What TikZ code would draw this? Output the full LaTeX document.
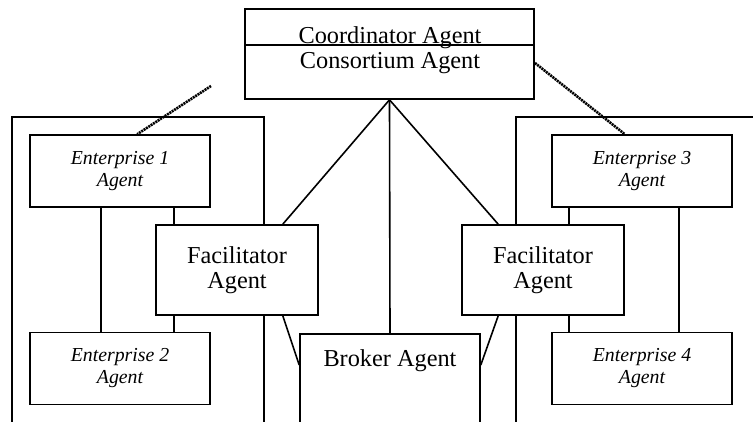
\documentclass[tikz,border=0pt]{standalone}
\usepackage{fontspec}
\setmainfont{Liberation Serif}
\usetikzlibrary{calc}
\begin{document}
\begin{tikzpicture}[x=1pt,y=-1pt,line width=1.6pt,
  box/.style={draw,fill=white,rectangle,inner sep=0pt,align=center},
  ent/.style={box,minimum width=180pt,minimum height=72pt,font=\fontsize{19.8}{22}\selectfont\itshape},
  fac/.style={box,minimum width=162pt,minimum height=90pt,font=\fontsize{24.3}{25}\selectfont},
  big/.style={font=\fontsize{24.3}{25}\selectfont,inner sep=0pt},
  link/.style={line width=1.6pt},
  dotlink/.style={line width=2.6pt,dash pattern=on 2pt off 0.8pt}]
\useasboundingbox (0,0) rectangle (753,421);
\clip (0,0) rectangle (753,421);
% enterprise enclosures
\draw (12,430) -- (12,117) -- (264,117) -- (264,430);
\draw (516,430) -- (516,117) -- (760,117);
% nodes
\node[box,minimum width=289pt,minimum height=90pt] (coord) at (389.5,54) {};
\draw (coord.west |- 0,45) -- (coord.east |- 0,45);
\node[big,anchor=base] (coordtxt) at (390,43) {Coordinator Agent};
\node[big,anchor=base] (constxt) at (390,68) {Consortium Agent};
\node[ent] (e1) at (120,171) {Enterprise 1\\Agent};
\node[ent] (e2) at (120,368.5) {Enterprise 2\\Agent};
\node[ent] (e3) at (642,171) {Enterprise 3\\Agent};
\node[ent] (e4) at (642,368.5) {Enterprise 4\\Agent};
% links inside enclosures (drawn before facilitators)
\draw[link] ([xshift=72pt]e1.south west) coordinate (a1) -- (a1 |- e2.north);
\draw[link] ([xshift=-54pt]e3.south east) coordinate (a3) -- (a3 |- e4.north);
\node[fac] (facl) at (237,270) {Facilitator\\Agent};
\node[fac] (facr) at (543,270) {Facilitator\\Agent};
\node[box,minimum width=180pt,minimum height=100pt,anchor=north] (broker) at (390,333) {};
\node[big,anchor=base] (brokertxt) at (390,366) {Broker Agent};
% links
\draw[link] ([xshift=-37pt]e1.south east) coordinate (b1) -- (b1 |- facl.north);
\draw[link] (b1 |- facl.south) -- (b1 |- e2.north);
\draw[link] ([xshift=18pt]e3.south west) coordinate (b3) -- (b3 |- facr.north);
\draw[link] (b3 |- facr.south) -- (b3 |- e4.north);
\draw[link] (coord.south) -- ([xshift=-36pt]facl.north east);
\draw[link] (coord.south) -- (broker.north);
\draw[link] (coord.south) -- ([xshift=37pt]facr.north west);
\draw[link] ([xshift=-36pt]facl.south east) -- ([yshift=-32pt]broker.north west);
\draw[link] ([xshift=37pt]facr.south west) -- ([yshift=-32pt]broker.north east);
% dotted links to enterprises
\coordinate (lfree) at (211,86);
\coordinate (rfree) at (535,63);
\draw[dotlink] (lfree) -- ([xshift=108pt]e1.north west);
\draw[dotlink] (rfree) -- ([xshift=-108pt]e3.north east);
\end{tikzpicture}
\end{document}
